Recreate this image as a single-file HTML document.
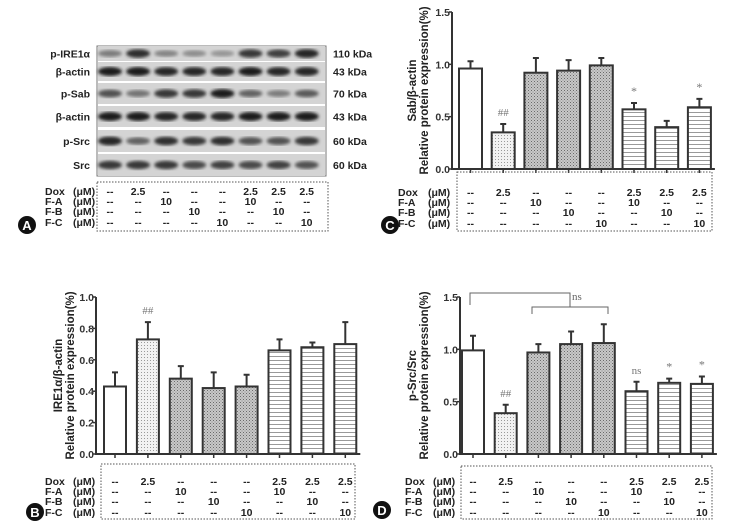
<!DOCTYPE html>
<html><head><meta charset="utf-8">
<style>
html,body{margin:0;padding:0;background:#fff;}
svg{display:block;font-family:"Liberation Sans",Arial,sans-serif;}
</style></head>
<body>
<svg id="fig" width="731" height="532" viewBox="0 0 731 532" xmlns="http://www.w3.org/2000/svg">
<defs>
<pattern id="pDot" width="3" height="3" patternUnits="userSpaceOnUse"><rect width="3" height="3" fill="#f2f2f2"/><rect width="1" height="1" fill="#9a9a9a"/></pattern>
<pattern id="pCross" width="3" height="3" patternUnits="userSpaceOnUse"><rect width="3" height="3" fill="#c8c8c8"/><rect width="1" height="1" fill="#6a6a6a"/><rect x="1.5" y="1.5" width="1" height="1" fill="#8a8a8a"/></pattern>
<pattern id="pHoriz" width="4" height="4" patternUnits="userSpaceOnUse"><rect width="4" height="4" fill="#fff"/><rect y="0" width="4" height="1" fill="#999"/></pattern>
<filter id="blur"><feGaussianBlur stdDeviation="1.6"/></filter>
</defs>
<g id="root"></g>
</svg>
<script>
var NS="http://www.w3.org/2000/svg";
var root=document.getElementById('root');
function mk(tag,attrs,parent,text){var e=document.createElementNS(NS,tag);for(var k in attrs)e.setAttribute(k,attrs[k]);if(text!==undefined)e.textContent=text;(parent||root).appendChild(e);return e;}

// ---------- data ----------
var groups=["Ctrl","Dox","F-A","F-B","F-C","Dox+F-A","Dox+F-B","Dox+F-C"];
var fills=["#fff","url(#pDot)","url(#pCross)","url(#pCross)","url(#pCross)","url(#pHoriz)","url(#pHoriz)","url(#pHoriz)"];
var tableRowNames=["Dox","F-A","F-B","F-C"];
var tableRows=[["--","2.5","--","--","--","2.5","2.5","2.5"],["--","--","10","--","--","10","--","--"],["--","--","--","10","--","--","10","--"],["--","--","--","--","10","--","--","10"]];

var ireValues=[0.43,0.73,0.48,0.42,0.43,0.66,0.68,0.70];
var ireErrors=[0.09,0.11,0.08,0.10,0.075,0.07,0.03,0.14];
var ireTicks=[0.0,0.2,0.4,0.6,0.8,1.0];
var ireMarks=["","##","","","","","",""];

var sabValues=[0.96,0.35,0.92,0.94,0.99,0.57,0.40,0.59];
var sabErrors=[0.07,0.08,0.14,0.10,0.07,0.06,0.06,0.08];
var sabTicks=[0.0,0.5,1.0,1.5];
var sabMarks=["","##","","","","*","","*"];

var srcValues=[0.99,0.39,0.97,1.05,1.06,0.60,0.68,0.67];
var srcErrors=[0.14,0.08,0.08,0.12,0.18,0.09,0.04,0.07];
var srcTicks=[0.0,0.5,1.0,1.5];
var srcMarks=["","##","","","","ns","*","*"];

function drawChart(cfg){
  var g=mk('g',{});
  
  
  var y=function(v){return cfg.y0-(v/cfg.max)*(cfg.y0-cfg.y1);};
  var x=function(i){return cfg.bx0+i*cfg.pitch;};
  cfg.values.forEach(function(v,i){
    var bx=x(i), by=y(v);
    var top=y(v+cfg.errors[i]);
    var eb=mk('path',{d:'M'+(bx+cfg.bw/2)+' '+by+'V'+top+'M'+(bx+cfg.bw/2-3)+' '+top+'H'+(bx+cfg.bw/2+3),stroke:'#333','stroke-width':2,fill:'none'},g);
    
    
    var r=mk('rect',{x:bx,y:by,width:cfg.bw,height:cfg.y0-by,fill:fills[i],stroke:'#333','stroke-width':2},g);
    
    
    mk('line',{x1:bx+cfg.bw/2,x2:bx+cfg.bw/2,y1:cfg.y0,y2:cfg.y0+4,stroke:'#333','stroke-width':1.5},g);
    if(cfg.marks[i]){
      var t=mk('text',{x:bx+cfg.bw/2,y:top-8,'text-anchor':'middle','font-size':cfg.marks[i]=='*'?12:11,fill:'#777','font-family':'Liberation Serif, serif'},g,cfg.marks[i]);
      
      
    }
  });
  var ax=mk('path',{d:'M'+cfg.ax+' '+(y(cfg.max))+'V'+cfg.y0+'H'+(x(7)+cfg.bw+4),stroke:'#333','stroke-width':2,fill:'none'},g);
  
  
  cfg.ticks.forEach(function(tv){
    var ty=y(tv);
    mk('line',{x1:cfg.ax-3,x2:cfg.ax,y1:ty,y2:ty,stroke:'#333','stroke-width':1.5},g);
    var t=mk('text',{x:cfg.ax-2,y:ty+4,'text-anchor':'end','font-size':10.5,'font-weight':'bold',fill:'#333'},g,tv.toFixed(1));
    
    
  });
  var cy=(cfg.y0+y(cfg.max))/2;
  var l1=mk('text',{x:0,y:0,transform:'translate('+cfg.lx1+','+cy+') rotate(-90)','text-anchor':'middle','font-size':11.5,'font-weight':'bold',fill:'#222'},g,cfg.ylab);
  
  
  var l2=mk('text',{x:0,y:0,transform:'translate('+(cfg.lx1+12)+','+cy+') rotate(-90)','text-anchor':'middle','font-size':11.5,'font-weight':'bold',fill:'#222'},g,'Relative protein expression(%)');
  
  
  drawTable(cfg.table,function(i){return x(i)+cfg.bw/2;},g);
}

function drawTable(t,colX,g){
  var tg=mk('g',{},g);
  
  
  mk('rect',{x:t.x0,y:t.y0,width:t.x1-t.x0,height:t.y1-t.y0,fill:'none',stroke:'#555','stroke-width':1,'stroke-dasharray':'1.5,1.5'},tg);
  tableRowNames.forEach(function(n,r){
    var ry=t.ry[r];
    mk('text',{x:t.lx,y:ry,'font-size':10.5,'font-weight':'bold',fill:'#222'},tg,n);
    mk('text',{x:t.ux,y:ry,'font-size':10.5,'font-weight':'bold',fill:'#222'},tg,'(μM)');
    tableRows[r].forEach(function(v,i){
      mk('text',{x:colX(i),y:ry,'text-anchor':'middle','font-size':10.5,'font-weight':'bold',fill:'#222'},tg,v);
    });
  });
  var c=mk('circle',{cx:t.cx,cy:t.cy,r:9,fill:'#111'},tg);
  
  
  mk('text',{x:t.cx,y:t.cy+5,'text-anchor':'middle','font-size':13,'font-weight':'bold',fill:'#fff'},tg,t.letter);
}

drawChart({name:'chart-ire1a',values:ireValues,errors:ireErrors,ticks:ireTicks,marks:ireMarks,max:1.0,y0:454,y1:297,ax:96,bx0:104,pitch:32.9,bw:22,lx1:62,ylab:'IRE1α/β-actin',
  table:{x0:101,x1:355,y0:464,y1:519,ry:[485,495,505,516],lx:45,ux:73,cx:35,cy:512,letter:'B'}});
drawChart({name:'chart-sab',values:sabValues,errors:sabErrors,ticks:sabTicks,marks:sabMarks,max:1.5,y0:169,y1:12,ax:452,bx0:459,pitch:32.7,bw:23,lx1:416,ylab:'Sab/β-actin',
  table:{x0:457,x1:712,y0:172,y1:231,ry:[196,206,216,227],lx:398,ux:428,cx:390,cy:225,letter:'C'}});
drawChart({name:'chart-p-src',values:srcValues,errors:srcErrors,ticks:srcTicks,marks:srcMarks,max:1.5,y0:454,y1:297,ax:460,bx0:462,pitch:32.7,bw:22,lx1:416,ylab:'p-Src/Src',
  table:{x0:461,x1:712,y0:466,y1:519,ry:[485,495,505,516],lx:405,ux:433,cx:382,cy:510,letter:'D'}});
var br=mk('path',{d:'M470 305V293H570V307M532 314V307H608V314',stroke:'#666','stroke-width':1,fill:'none'});


mk('text',{x:572,y:300,'font-size':11,fill:'#666','font-family':'Liberation Serif, serif'},root,'ns');

var blotLabels=["p-IRE1α","β-actin","p-Sab","β-actin","p-Src","Src"];
var blotKda=["110 kDa","43 kDa","70 kDa","43 kDa","60 kDa","60 kDa"];
var blotRowTops=[46,62,83,106,130,154];
var blotRowH=[15,19,21,21,22,22];
var blotIntensity=[[0.45,0.9,0.4,0.35,0.3,0.85,0.8,0.95],[1,1,0.95,0.95,0.95,1,0.95,0.95],[0.7,0.5,0.85,0.85,1,0.6,0.45,0.65],[1,1,0.95,0.95,0.95,1,1,1],[0.95,0.6,0.9,0.85,0.9,0.7,0.7,0.85],[0.85,0.85,0.85,0.75,0.8,0.75,0.8,0.7]];
var bg=mk('g',{});


mk('rect',{x:97,y:46,width:229,height:130,fill:'#fff',stroke:'#777','stroke-width':1},bg);
blotRowTops.forEach(function(ty,r){
  mk('rect',{x:98,y:ty,width:227,height:blotRowH[r],fill:'#d4d4d4'},bg);
  blotIntensity[r].forEach(function(v,i){
    var cx=110+i*28.1;
    var c=Math.round(200-170*v);
    mk('ellipse',{cx:cx,cy:ty+blotRowH[r]/2,rx:12,ry:2.5+2*v,fill:'rgb('+c+','+c+','+c+')',filter:'url(#blur)'},bg);
  });
  var t=mk('text',{x:90,y:ty+blotRowH[r]/2+4,'text-anchor':'end','font-size':10.5,'font-weight':'bold',fill:'#222'},bg,blotLabels[r]);
  
  
  var k=mk('text',{x:333,y:ty+blotRowH[r]/2+4,'font-size':10.5,'font-weight':'bold',fill:'#222'},bg,blotKda[r]);
  
  
});
drawTable({x0:97,x1:328,y0:182,y1:231,ry:[195,205,215,226],lx:45,ux:73,cx:27,cy:225,letter:'A'},function(i){return 110+i*28.1;},root);
</script>
</body></html>
